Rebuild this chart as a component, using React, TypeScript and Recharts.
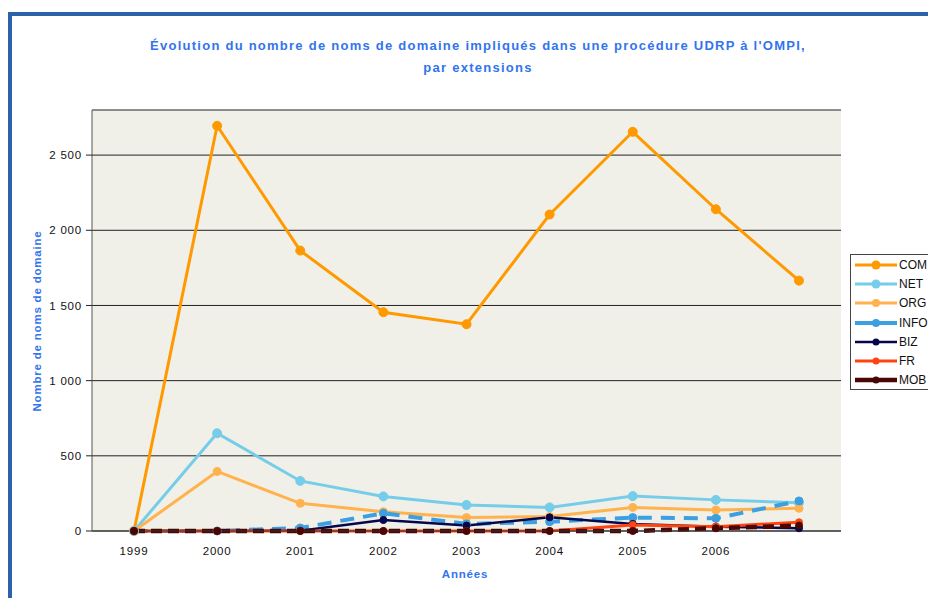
import { LineChart, Line, XAxis, YAxis, CartesianGrid } from "recharts"

// Années (le dernier point n'a pas d'étiquette sur l'original)
const years = ["1999", "2000", "2001", "2002", "2003", "2004", "2005", "2006", "2007"]
const tickLabels = ["1999", "2000", "2001", "2002", "2003", "2004", "2005", "2006", ""]

const com = [0, 2695, 1865, 1455, 1375, 2105, 2655, 2140, 1665]
const net = [0, 650, 333, 230, 173, 157, 232, 207, 188]
const org = [0, 396, 184, 128, 89, 96, 157, 140, 151]
const info = [0, 0, 20, 118, 47, 62, 89, 84, 200]
const biz = [0, 0, 2, 73, 36, 91, 47, 29, 18]
const fr = [0, 0, 0, 0, 0, 0, 40, 29, 58]
const mob = [0, 0, 0, 0, 0, 0, 0, 18, 36]

const yTicks = [0, 500, 1000, 1500, 2000, 2500]

const series = [
  { key: "COM", values: com, color: "#ff9900", width: 3, dash: undefined, r: 4.5 },
  { key: "NET", values: net, color: "#76cde9", width: 3, dash: undefined, r: 4.5 },
  { key: "ORG", values: org, color: "#ffb24d", width: 3, dash: undefined, r: 4 },
  { key: "INFO", values: info, color: "#3c9fe0", width: 4, dash: "14 9", r: 4 },
  { key: "BIZ", values: biz, color: "#06064d", width: 2.5, dash: undefined, r: 3.5 },
  { key: "FR", values: fr, color: "#ff4411", width: 3, dash: undefined, r: 3.5 },
  { key: "MOB", values: mob, color: "#4a0505", width: 4.5, dash: "11 6", r: 3.5 },
]

const data = years.map((y, i) => {
  const row: Record<string, string | number> = { year: y, label: tickLabels[i] }
  series.forEach((s) => { row[s.key] = s.values[i] })
  return row
})

const fmtNum = (n: number) => String(n).replace(/\B(?=(\d{3})+(?!\d))/g, " ")

const FONT = "'Liberation Sans', Arial, sans-serif"
const BLUE = "#3274ee"
const PAD = { left: 42, right: 42 }
const TICK = { fontSize: 11.5, fill: "#111", fontFamily: FONT, letterSpacing: 0.8 }

export default function App() {
  return (
    <div style={{ position: "absolute", left: 0, top: 0, width: 928, height: 598, background: "#fff", overflow: "hidden", fontFamily: FONT }}>
      {/* cadre bleu */}
      <div style={{ position: "absolute", left: 8, top: 12, width: 940, height: 600, borderTop: "4px solid #2c63a8", borderLeft: "4px solid #2c63a8" }} />

      <div style={{ position: "absolute", left: 0, width: 956, top: 35, textAlign: "center", color: BLUE, fontWeight: "bold", fontSize: 13, letterSpacing: 1.25, lineHeight: "22px" }}>
        Évolution du nombre de noms de domaine impliqués dans une procédure UDRP à l'OMPI,<br />par extensions
      </div>

      <div style={{ position: "absolute", left: 37, top: 321, transform: "translate(-50%, -50%) rotate(-90deg)", whiteSpace: "nowrap", color: BLUE, fontWeight: "bold", fontSize: 11.5, letterSpacing: 0.8 }}>
        Nombre de noms de domaine
      </div>

      <div style={{ position: "absolute", left: 465, top: 574, transform: "translate(-50%, -50%)", color: BLUE, fontWeight: "bold", fontSize: 11.5, letterSpacing: 0.8 }}>
        Années
      </div>

      <div style={{ position: "absolute", left: 0, top: 0 }}>
        <LineChart width={928} height={598} data={data} margin={{ top: 110, right: 87, bottom: 37, left: 0 }}>
          <CartesianGrid vertical={false} stroke="#222" strokeWidth={1} fill="#f1f0e8" fillOpacity={1} />
          <XAxis
            dataKey="label"
            interval={0}
            padding={PAD}
            tickSize={0}
            tickMargin={16}
            height={30}
            axisLine={{ stroke: "#333" }}
            tick={TICK}
          />
          <XAxis xAxisId="top" dataKey="year" orientation="top" padding={PAD} height={0} tick={false} tickLine={false} axisLine={{ stroke: "#888" }} />
          <YAxis
            width={92}
            domain={[0, 2800]}
            ticks={yTicks}
            interval={0}
            tickFormatter={fmtNum}
            tickSize={6}
            tickMargin={4}
            axisLine={{ stroke: "#555" }}
            tickLine={{ stroke: "#222" }}
            tick={TICK}
          />
          <YAxis yAxisId="right" orientation="right" width={0} domain={[0, 2800]} tick={false} tickLine={false} axisLine={{ stroke: "#888" }} />
          {series.map((s) => (
            <Line
              key={s.key}
              dataKey={s.key}
              type="linear"
              stroke={s.color}
              strokeWidth={s.width}
              strokeDasharray={s.dash}
              dot={{ r: s.r, fill: s.color, stroke: s.color, strokeWidth: 1, strokeDasharray: "" }}
              activeDot={false}
              isAnimationActive={false}
            />
          ))}
        </LineChart>
      </div>

      {/* légende */}
      <div style={{ position: "absolute", left: 850, top: 254, width: 100, height: 134, border: "1px solid #444", background: "#fff" }}>
        {series.map((s, i) => (
          <div key={s.key} style={{ position: "absolute", left: 2, top: 2 + i * 19.2, height: 16, display: "flex", alignItems: "center" }}>
            <svg width={45} height={16}>
              <line x1={2} y1={8} x2={44} y2={8} stroke={s.color} strokeWidth={s.width} />
              <circle cx={23} cy={8} r={s.r} fill={s.color} />
            </svg>
            <span style={{ fontSize: 12, color: "#111", marginLeft: 1 }}>{s.key}</span>
          </div>
        ))}
      </div>
    </div>
  )
}
